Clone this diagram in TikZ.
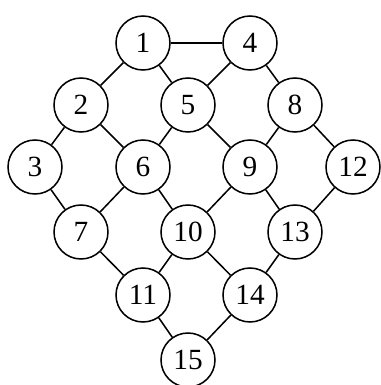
\documentclass[tikz,border=0pt]{standalone}
\usepackage{fontspec}
\setmainfont{Liberation Serif}
\usepackage{tikz}
\usetikzlibrary{positioning}

\begin{document}
\begin{tikzpicture}[x=0.03cm, y=-0.03cm,
    num/.style={circle, draw, line width=1.3pt, minimum size=1.62cm, inner sep=0pt, font=\fontsize{25}{28}\selectfont},
    link/.style={line width=1.3pt}]
  \useasboundingbox (0,0) rectangle (380,385);
  \node[num] (n1) at (143,43) {1};
  \node[num] (n4) at (250,43) {4};
  \node[num] (n2) at (81,105) {2};
  \node[num] (n5) at (188,105) {5};
  \node[num] (n8) at (295,105) {8};
  \node[num] (n3) at (35,167) {3};
  \node[num] (n6) at (143,167) {6};
  \node[num] (n9) at (250,167) {9};
  \node[num] (n12) at (353,167) {12};
  \node[num] (n7) at (81,232) {7};
  \node[num] (n10) at (188,232) {10};
  \node[num] (n13) at (295,232) {13};
  \node[num] (n11) at (143,295) {11};
  \node[num] (n14) at (250,295) {14};
  \node[num] (n15) at (188,360) {15};
  \draw[link] (n1) -- (n4);
  \draw[link] (n1) -- (n2);
  \draw[link] (n1) -- (n5);
  \draw[link] (n4) -- (n5);
  \draw[link] (n4) -- (n8);
  \draw[link] (n2) -- (n3);
  \draw[link] (n2) -- (n6);
  \draw[link] (n5) -- (n6);
  \draw[link] (n5) -- (n9);
  \draw[link] (n8) -- (n9);
  \draw[link] (n8) -- (n12);
  \draw[link] (n3) -- (n7);
  \draw[link] (n6) -- (n7);
  \draw[link] (n6) -- (n10);
  \draw[link] (n9) -- (n10);
  \draw[link] (n9) -- (n13);
  \draw[link] (n12) -- (n13);
  \draw[link] (n7) -- (n11);
  \draw[link] (n10) -- (n11);
  \draw[link] (n10) -- (n14);
  \draw[link] (n13) -- (n14);
  \draw[link] (n11) -- (n15);
  \draw[link] (n14) -- (n15);
\end{tikzpicture}
\end{document}
